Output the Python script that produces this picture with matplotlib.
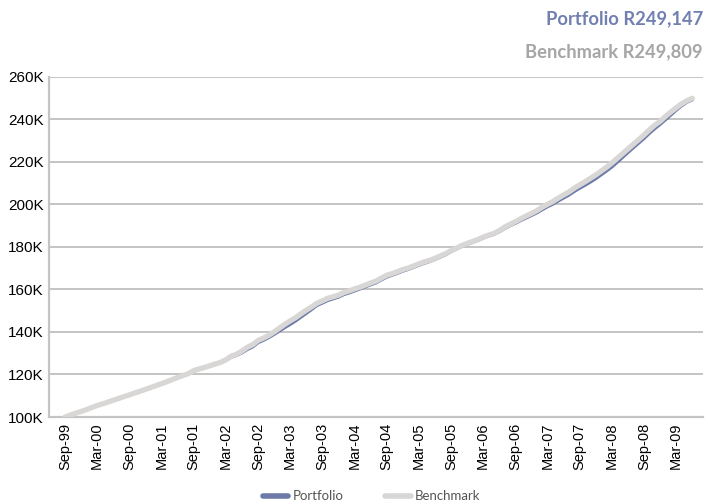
import matplotlib
matplotlib.use("Agg")
import matplotlib.pyplot as plt
import numpy as np

# monthly values (R thousands), Sep-99 .. Jun-09
portfolio = [
    100.0, 100.9, 101.8, 102.6, 103.5, 104.4, 105.3, 106.1, 107.0, 107.8, 108.7, 109.5,
    110.3, 111.2, 112.0, 112.9, 113.8, 114.7, 115.6, 116.5, 117.5, 118.5, 119.5, 120.3,
    121.6, 122.4, 123.1, 123.9, 124.7, 125.5, 126.6, 128.2, 129.0, 130.2, 131.8, 133.0,
    135.0, 136.1, 137.4, 138.9, 140.5, 142.1, 143.6, 145.2, 147.0, 148.8, 150.6, 152.5,
    153.6, 154.8, 155.6, 156.4, 157.6, 158.4, 159.3, 160.2, 161.2, 162.2, 163.1, 164.5,
    165.8, 166.7, 167.6, 168.6, 169.4, 170.4, 171.4, 172.3, 173.1, 174.1, 175.2, 176.3,
    177.8, 179.0, 180.2, 181.2, 182.1, 183.0, 184.2, 185.1, 185.9, 187.1, 188.7, 190.0,
    191.1, 192.4, 193.6, 194.8, 196.0, 197.5, 198.9, 200.1, 201.6, 203.0, 204.4, 206.1,
    207.6, 209.0, 210.5, 212.1, 213.9, 215.7, 217.6, 219.8, 222.1, 224.4, 226.6, 228.8,
    231.0, 233.4, 235.6, 237.6, 239.8, 242.0, 244.3, 246.3, 248.0, 249.147,
]
benchmark = [
    100.0, 100.9, 101.8, 102.6, 103.5, 104.5, 105.4, 106.2, 107.0, 107.9, 108.7, 109.6,
    110.4, 111.3, 112.1, 113.0, 113.9, 114.8, 115.7, 116.6, 117.6, 118.6, 119.5, 120.4,
    121.8, 122.6, 123.3, 124.1, 124.9, 125.7, 126.9, 128.6, 129.5, 131.0, 132.8, 134.0,
    136.0, 137.1, 138.4, 140.0, 141.8, 143.6, 145.2, 146.7, 148.5, 150.2, 151.8, 153.5,
    154.6, 155.8, 156.5, 157.3, 158.5, 159.3, 160.2, 161.0, 162.0, 163.0, 163.9, 165.3,
    166.6, 167.4, 168.3, 169.3, 170.0, 171.0, 172.0, 172.9, 173.6, 174.6, 175.7, 176.8,
    178.2, 179.4, 180.6, 181.6, 182.5, 183.4, 184.6, 185.5, 186.3, 187.6, 189.3, 190.6,
    191.8, 193.2, 194.5, 195.7, 197.0, 198.6, 200.0, 201.3, 202.9, 204.4, 205.8, 207.6,
    209.1, 210.6, 212.2, 213.8, 215.6, 217.4, 219.4, 221.6, 223.8, 226.0, 228.2, 230.4,
    232.6, 235.0, 237.2, 239.0, 241.3, 243.4, 245.4, 247.2, 248.7, 249.809,
]
tick_labels = ["Sep-99", "Mar-00", "Sep-00", "Mar-01", "Sep-01", "Mar-02", "Sep-02",
               "Mar-03", "Sep-03", "Mar-04", "Sep-04", "Mar-05", "Sep-05", "Mar-06",
               "Sep-06", "Mar-07", "Sep-07", "Mar-08", "Sep-08", "Mar-09"]
y_ticks = [100, 120, 140, 160, 180, 200, 220, 240, 260]

port_col = "#6b7aa8"
bench_col = "#d9d7d5"
grid_col = "#c4c4c4"

plt.rcParams["font.family"] = ["Liberation Sans", "DejaVu Sans"]

fig = plt.figure(figsize=(7.08, 5.04), dpi=100)
ax = fig.add_axes([0.0692, 0.1726, 0.9238, 0.6754])

months = np.arange(len(portfolio))
ax.plot(months, portfolio, color=port_col, lw=2.4, solid_capstyle="round", zorder=2,
        label="Portfolio")
ax.plot(months, benchmark, color=bench_col, lw=3.8, solid_capstyle="round", zorder=3,
        label="Benchmark")

ax.set_xlim(-3, 119)
ax.set_ylim(100, 260)
ax.set_yticks(y_ticks)
ax.set_yticklabels([f"{v}K" for v in y_ticks], fontsize=11)
ax.set_xticks(np.arange(0, 6 * len(tick_labels), 6))
ax.set_xticklabels(tick_labels, rotation=90, fontsize=10.5)
ax.tick_params(length=0, pad=4)

ax.grid(axis="y", color=grid_col, lw=1.4)
ax.set_axisbelow(True)
for s in ["top", "right"]:
    ax.spines[s].set_visible(False)
for s in ["left", "bottom"]:
    ax.spines[s].set_color(grid_col)
    ax.spines[s].set_linewidth(1.6)

fig.text(0.993, 0.963, "Portfolio R249,147", ha="right", va="center",
         fontsize=13.2, fontweight="bold", color="#7180b0", family="Lato")
fig.text(0.993, 0.898, "Benchmark R249,809", ha="right", va="center",
         fontsize=13.2, fontweight="bold", color="#a6a6a6", family="Lato")

h, l = ax.get_legend_handles_labels()
leg = fig.legend(h, l, loc="lower center", bbox_to_anchor=(0.525, -0.02), ncol=2,
                 frameon=False, handlelength=1.9, columnspacing=3.2,
                 handletextpad=0.3, prop={"family": "Lato", "size": 9.5})
for t in leg.get_texts():
    t.set_color("#555555")
for line in leg.get_lines():
    line.set_linewidth(4)

fig.savefig("out.png", dpi=100)
